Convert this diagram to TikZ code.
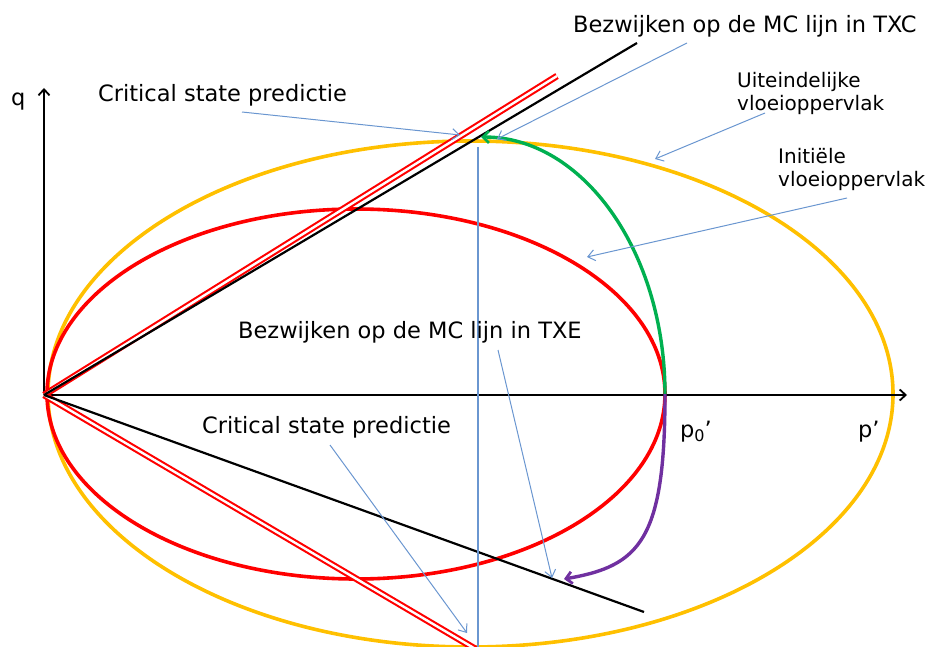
\documentclass[tikz,border=0pt]{standalone}
\usepackage{fontspec}
\setmainfont{DejaVu Sans}
\usetikzlibrary{arrows.meta}
\definecolor{gold}{HTML}{FFC000}
\definecolor{redc}{HTML}{FF0000}
\definecolor{greenc}{HTML}{00B050}
\definecolor{purplec}{HTML}{7030A0}
\definecolor{bluec}{HTML}{6A96D0}
\tikzset{
  axisline/.style={line width=2.1pt, -{Straight Barb[length=6pt,width=11pt,line width=1.8pt]}},
  blackline/.style={line width=2.2pt, black},
  dblred/.style={draw=redc, line width=2.1pt, double=white, double distance=2.4pt},
  ellipsegold/.style={draw=gold, line width=3.6pt},
  ellipsered/.style={draw=redc, line width=3.6pt},
  pathgreen/.style={draw=greenc, line width=3.4pt, -{Straight Barb[length=6pt,width=12pt,line width=2.8pt]}},
  pathpurple/.style={draw=purplec, line width=3.4pt, -{Straight Barb[length=6pt,width=12pt,line width=2.8pt]}},
  blueann/.style={draw=bluec, line width=1pt, -{Straight Barb[length=7pt,width=11pt,line width=1pt]}},
  biglabel/.style={inner sep=0pt, anchor=base west, font=\fontsize{22.5}{26}\selectfont},
  smalllabel/.style={inner sep=0pt, anchor=base west, font=\fontsize{20}{23}\selectfont},
}
\begin{document}
\begin{tikzpicture}[x=1pt, y=-1pt]
\useasboundingbox (0,0) rectangle (930,647);
\begin{scope}
\clip (0,0) rectangle (930,647);
% ellipses
\draw[ellipsegold] (470.5,394) ellipse [x radius=422.5pt, y radius=253pt];
\draw[ellipsered] (356,394) ellipse [x radius=309pt, y radius=185pt];
% axes
\coordinate (O) at (44,395);
\coordinate (qtop) at (44,88);
\coordinate (pend) at (907,395);
\draw[axisline] (O) -- (qtop);
\draw[axisline] (O) -- (pend);
% lines
\coordinate (redup) at (557,76);
\coordinate (reddown) at (484,654);
\coordinate (blackup) at (637,43);
\coordinate (blackdown) at (644,612);
\draw[dblred] (O) -- (redup);
\draw[dblred] (O) -- (reddown);
\draw[blackline] (O) -- (blackup);
\draw[blackline] (O) -- (blackdown);
% stress paths
\coordinate (p0) at (665,394);
\coordinate (gtip) at (481,137);
\coordinate (ptip) at (564,579);
\draw[pathgreen] (p0) .. controls (665,252) and (583,137) .. (gtip);
\draw[pathpurple] (p0) .. controls (665,540) and (640,566) .. (ptip);
% vertical blue line
\coordinate (vtop) at (478,147);
\coordinate (vbot) at (478,650);
\draw[draw=bluec, line width=1.1pt] (vtop) -- (vbot);
\end{scope}
% labels
\node[biglabel] (cs1) at (98,102) {Critical state predictie};
\node[biglabel] (txc) at (573,33) {Bezwijken op de MC lijn in TXC};
\node[smalllabel] (uit1) at (737,88) {Uiteindelijke};
\node[smalllabel] (uit2) at (737,111) {vloeioppervlak};
\node[smalllabel] (ini1) at (778,164) {Initiële};
\node[smalllabel] (ini2) at (778,187) {vloeioppervlak};
\node[biglabel] (txe) at (238,338) {Bezwijken op de MC lijn in TXE};
\node[biglabel] (cs2) at (202,433) {Critical state predictie};
\node[biglabel] (qlab) at (11,106) {q};
\node[biglabel] (p0lab) at (680,437) {p\raisebox{-0.22em}{\fontsize{16}{16}\selectfont 0}’};
\node[biglabel] (plab) at (858,437) {p’};
% annotation arrows
\coordinate (a1s) at (242,112); \coordinate (a1e) at (460,135);
\coordinate (a2s) at (687,43);  \coordinate (a2e) at (497,139);
\coordinate (a3s) at (765,113); \coordinate (a3e) at (655,159);
\coordinate (a4s) at (847,198); \coordinate (a4e) at (587,257);
\coordinate (a5s) at (498,350); \coordinate (a5e) at (552,578);
\coordinate (a6s) at (330,445); \coordinate (a6e) at (467,633);
\draw[blueann] (a1s) -- (a1e);
\draw[blueann] (a2s) -- (a2e);
\draw[blueann] (a3s) -- (a3e);
\draw[blueann] (a4s) -- (a4e);
\draw[blueann] (a5s) -- (a5e);
\draw[blueann] (a6s) -- (a6e);
\end{tikzpicture}
\end{document}
